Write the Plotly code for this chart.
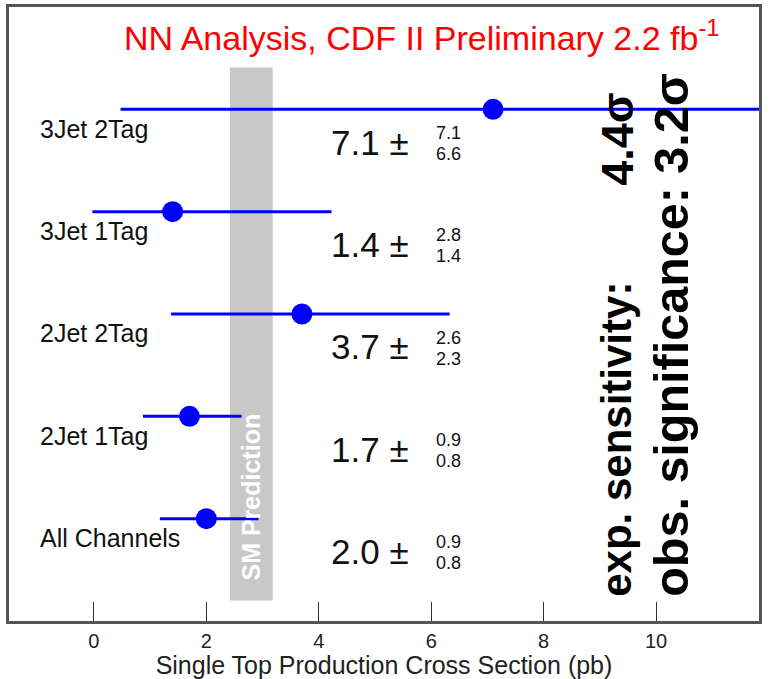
import plotly.graph_objects as go

# Measured single-top cross sections per channel (pb), asymmetric uncertainties
channels = ["All Channels", "2Jet 1Tag", "2Jet 2Tag", "3Jet 1Tag", "3Jet 2Tag"]
rows = [1, 2, 3, 4, 5]
xsec = [2.0, 1.7, 3.7, 1.4, 7.1]
err_up = [0.9, 0.9, 2.6, 2.8, 7.1]
err_down = [0.8, 0.8, 2.3, 1.4, 6.6]

# Standard Model prediction band (pb)
sm_low, sm_high = 2.42, 3.18

x_ticks = [0, 2, 4, 6, 8, 10]

title_text = "NN Analysis, CDF II Preliminary 2.2 fb<sup>-1</sup>"
exp_label = "exp. sensitivity:"
exp_value = "4.4σ"
obs_text = "obs. significance: 3.2σ"

BLUE = "#0000ff"
FONT = "Liberation Sans, Arial, sans-serif"

fig = go.Figure()

# SM prediction band
fig.add_shape(type="rect", x0=sm_low, x1=sm_high, y0=0.2, y1=5.41,
              xref="x", yref="y", fillcolor="#c8c8c8", line=dict(width=0),
              layer="below")

fig.add_trace(go.Scatter(
    x=xsec, y=rows, mode="markers",
    marker=dict(color=BLUE, size=21, line=dict(width=0)),
    error_x=dict(type="data", symmetric=False, array=err_up, arrayminus=err_down,
                 color=BLUE, thickness=3, width=1.5),
    cliponaxis=True, showlegend=False, hoverinfo="skip",
))

ann = []
for name, r, v, up, dn in zip(channels, rows, xsec, err_up, err_down):
    # channel name, below-left of each measurement
    ann.append(dict(x=-1.0, y=r - 0.19, text=name, xanchor="left", yanchor="middle",
                    showarrow=False, font=dict(family=FONT, size=25, color="#111")))
    # central value with ±
    ann.append(dict(x=4.18, y=r - 0.32, text=f"{v:.1f} \u00b1", xanchor="left",
                    yanchor="middle", showarrow=False,
                    font=dict(family=FONT, size=35, color="#111")))
    # upper / lower uncertainties stacked
    ann.append(dict(x=6.05, y=r - 0.23, text=f"{up:.1f}", xanchor="left",
                    yanchor="middle", showarrow=False,
                    font=dict(family=FONT, size=18, color="#111")))
    ann.append(dict(x=6.05, y=r - 0.435, text=f"{dn:.1f}", xanchor="left",
                    yanchor="middle", showarrow=False,
                    font=dict(family=FONT, size=18, color="#111")))

ann.append(dict(x=(sm_low + sm_high) / 2, y=1.21, text="<b>SM Prediction</b>",
                textangle=-90, xanchor="center", yanchor="middle", showarrow=False,
                font=dict(family=FONT, size=25, color="white")))

ann.append(dict(x=0.5, y=5.72, text=title_text, xanchor="left", yanchor="middle",
                showarrow=False, font=dict(family=FONT, size=34, color="#ff0000")))

ann.append(dict(x=9.3, y=0.22, text=f"<b>{exp_label}</b>", textangle=-90,
                xanchor="center", yanchor="bottom", showarrow=False,
                font=dict(family=FONT, size=42, color="black")))
ann.append(dict(x=9.3, y=4.71, text=f"<b>{exp_value}</b>", textangle=-90,
                xanchor="center", yanchor="middle", showarrow=False,
                font=dict(family=FONT, size=45, color="black")))
ann.append(dict(x=10.27, y=0.22, text=f"<b>{obs_text}</b>", textangle=-90,
                xanchor="center", yanchor="bottom", showarrow=False,
                font=dict(family=FONT, size=48.5, color="black")))

fig.update_layout(
    width=774, height=679,
    margin=dict(l=9, r=15, t=4, b=57),
    paper_bgcolor="white", plot_bgcolor="white",
    annotations=ann,
    xaxis=dict(range=[-1.51, 11.83], tickvals=x_ticks, ticktext=[str(t) for t in x_ticks],
               ticks="inside", ticklen=19, tickwidth=1, tickcolor="#333",
               showline=True, linecolor="#555", linewidth=2.5, mirror=True,
               showgrid=False, zeroline=False,
               tickfont=dict(family=FONT, size=20, color="#222"),
               title=dict(text="Single Top Production Cross Section (pb)",
                          font=dict(family=FONT, size=25, color="#222"), standoff=6)),
    yaxis=dict(range=[0, 6], showticklabels=False, ticks="",
               showline=True, linecolor="#555", linewidth=2.5, mirror=True,
               showgrid=False, zeroline=False),
)

fig.write_html("out.html")
